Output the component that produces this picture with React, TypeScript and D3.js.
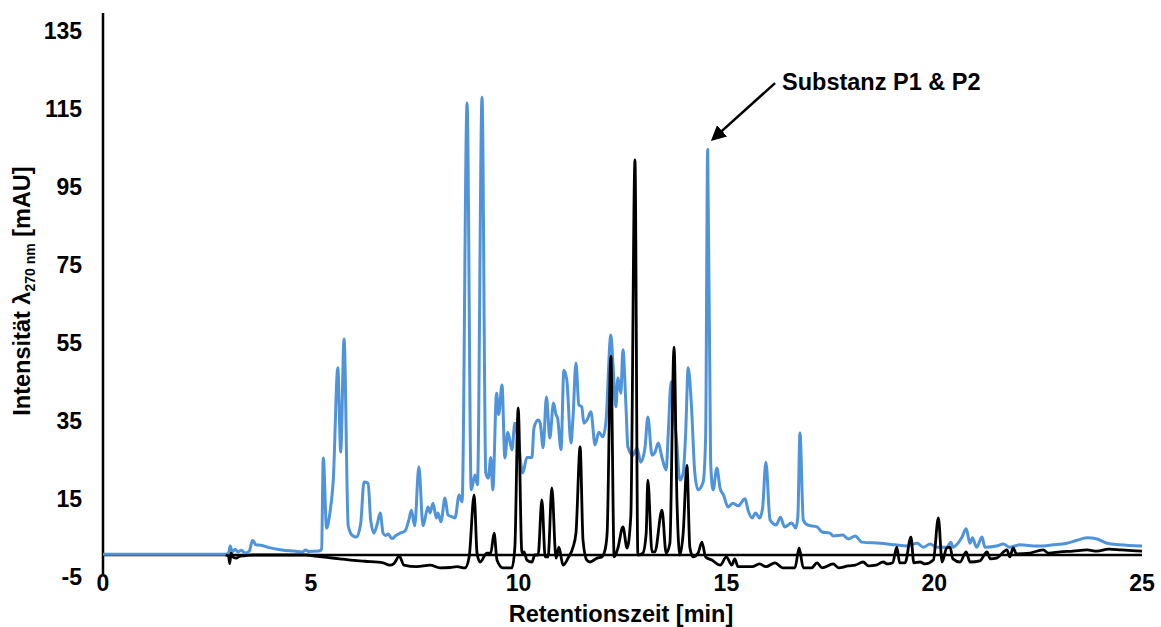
import React from "react";
import * as d3 from "d3";

// Chromatogram at 270 nm: two overlaid runs, retention time in minutes vs. absorbance in mAU
const xTicks = [0, 5, 10, 15, 20, 25];
const yTicks = [-5, 15, 35, 55, 75, 95, 115, 135];

// blue run [min, mAU]
const traceBlue: [number, number][] = [
  [0, 0.2], [2.95, 0.2], [3.02, 0.4], [3.06, 2.3], [3.11, 0.8], [3.18, 1.5], [3.25, 0.8],
  [3.33, 1.2], [3.42, 0.5], [3.52, 1.0], [3.6, 3.8], [3.68, 2.6], [3.8, 2.5], [4.0, 1.9],
  [4.3, 1.3], [4.6, 1.0], [4.8, 0.8], [4.88, 1.3], [4.95, 0.9], [5.2, 1.0], [5.26, 1.5],
  [5.3, 24.9], [5.38, 6.9], [5.46, 10.8], [5.54, 19], [5.65, 48], [5.72, 26.4], [5.8, 55.4],
  [5.9, 7.5], [6.0, 5], [6.1, 4.6], [6.2, 8], [6.28, 18.7], [6.38, 18.4], [6.44, 9],
  [6.52, 5.6], [6.6, 8], [6.67, 10.8], [6.74, 5.6], [6.8, 5.0], [6.86, 5.4], [6.95, 4.2],
  [7.05, 5.0], [7.15, 5.6], [7.27, 6.2], [7.36, 9], [7.42, 11.5], [7.5, 7.5], [7.6, 22.6],
  [7.7, 7.5], [7.82, 12.3], [7.87, 10.8], [7.94, 13.3], [8.02, 9.5], [8.06, 10.8], [8.13, 8.5],
  [8.23, 14.6], [8.3, 10.3], [8.4, 9.8], [8.47, 9.5], [8.57, 15.4], [8.64, 13.6], [8.76, 115.9],
  [8.86, 16.7], [8.95, 20.5], [9.01, 18], [9.12, 117.4], [9.21, 21], [9.27, 19.7], [9.33, 25],
  [9.38, 16.7], [9.47, 41.5], [9.52, 36], [9.6, 43.6], [9.67, 24.9], [9.74, 31.5], [9.84, 27],
  [9.91, 33.8], [9.99, 29.5], [10.1, 21], [10.2, 25], [10.32, 25], [10.37, 32.6], [10.47, 34.6],
  [10.52, 33.8], [10.59, 27.5], [10.67, 40.5], [10.75, 30], [10.84, 39], [10.9, 36], [10.94, 35],
  [11.02, 27], [11.09, 47.4], [11.16, 44.9], [11.26, 28.7], [11.31, 35.4], [11.38, 49.2],
  [11.45, 38.5], [11.52, 38], [11.57, 33.8], [11.64, 34.5], [11.74, 36.7], [11.84, 28.2],
  [11.93, 31.5], [12.03, 30.3], [12.1, 34], [12.22, 56.4], [12.27, 49], [12.34, 38],
  [12.39, 45.4], [12.46, 41.5], [12.51, 52.6], [12.58, 39], [12.63, 27.7], [12.75, 25.6],
  [12.85, 27.4], [12.94, 23.8], [13.04, 27.4], [13.11, 35.4], [13.21, 25.6], [13.28, 26.3],
  [13.36, 28.7], [13.45, 25], [13.55, 21.8], [13.6, 31], [13.67, 44.4], [13.72, 38],
  [13.8, 29.5], [13.88, 19.2], [13.96, 21], [14.02, 31.3], [14.08, 48], [14.16, 38],
  [14.24, 21], [14.32, 16.7], [14.44, 18.7], [14.5, 30], [14.55, 104], [14.62, 24],
  [14.68, 16.7], [14.77, 22.3], [14.85, 17], [14.93, 15.4], [15.04, 12.3], [15.16, 13.3],
  [15.28, 12.6], [15.45, 14.4], [15.52, 11.5], [15.62, 9.5], [15.7, 10.8], [15.8, 9.5],
  [15.87, 12], [15.95, 23.8], [16.05, 9], [16.2, 7.7], [16.3, 9.7], [16.4, 7.2], [16.57, 8.2],
  [16.67, 6.9], [16.72, 10], [16.77, 31.3], [16.85, 9], [16.95, 7.7], [17.18, 7.2], [17.3, 5.9],
  [17.49, 5.6], [17.57, 4.9], [17.8, 5.1], [17.93, 4.1], [18.1, 4.9], [18.26, 3.3], [18.7, 3.0],
  [19.06, 2.6], [19.35, 2.3], [19.59, 3.0], [19.74, 2.0], [19.9, 2.8], [20.07, 2.0], [20.3, 2.0],
  [20.4, 3.3], [20.45, 2.0], [20.66, 4.4], [20.77, 6.7], [20.86, 3.0], [20.92, 4.4], [21.02, 2.0],
  [21.15, 4.6], [21.22, 2.0], [21.5, 2.3], [21.66, 2.8], [21.82, 2.0], [22.06, 2.6], [22.47, 2.3],
  [22.86, 2.6], [23.19, 3.0], [23.44, 3.8], [23.68, 4.4], [23.92, 4.1], [24.16, 3.0],
  [24.47, 2.6], [25, 2.3],
];

// black run [min, mAU]
const traceBlack: [number, number][] = [
  [2.95, 0], [3.02, -0.3], [3.05, -2.2], [3.08, 0.5], [3.12, -0.5], [3.2, -0.8], [3.3, -0.3],
  [3.4, -0.2], [3.6, 0], [4.9, 0], [5.1, -0.3], [5.38, -0.6], [5.7, -1.0], [5.95, -1.3],
  [6.3, -1.6], [6.74, -2.0], [6.9, -2.6], [7.0, -2.2], [7.13, -0.3], [7.24, -2.6], [7.55, -3.0],
  [7.87, -2.6], [8.11, -3.3], [8.35, -3.2], [8.52, -3.0], [8.71, -3.3], [8.81, -0.5],
  [8.93, 15.4], [9.0, 0.5], [9.07, -1.8], [9.24, 0.5], [9.33, 0.5], [9.41, 5.6], [9.48, -1.3],
  [9.62, -3.3], [9.84, -3.3], [9.91, 2], [9.99, 37.7], [10.08, 0.5], [10.13, 0.8], [10.2, -1.3],
  [10.32, -1.8], [10.39, 0], [10.47, 0], [10.56, 14.1], [10.64, -0.5], [10.71, -0.5],
  [10.8, 17.2], [10.9, -0.8], [10.97, 2], [11.07, -2.6], [11.19, -0.8], [11.31, 2], [11.38, 5.6],
  [11.48, 27.7], [11.55, 3.8], [11.64, -1.3], [11.72, -1.8], [11.89, -0.8], [12.0, -0.5],
  [12.08, 1.3], [12.13, 5.6], [12.22, 51], [12.3, -0.5], [12.39, 1.8], [12.51, 7.2],
  [12.61, 1.8], [12.7, 10], [12.8, 101.3], [12.87, 0], [12.99, 0.5], [13.07, 5.6], [13.11, 19.2],
  [13.21, 0.8], [13.28, 0.8], [13.45, 11.5], [13.55, 0.5], [13.64, 3], [13.74, 53.3],
  [13.81, 14], [13.88, 0], [13.96, 5.6], [14.05, 23], [14.12, 2], [14.2, -0.5], [14.32, 0.5],
  [14.41, 3.3], [14.5, -0.5], [14.65, -1.3], [14.85, -2.6], [15.0, -0.5], [15.13, -2.6],
  [15.2, -1.0], [15.28, -3.0], [15.62, -3.0], [15.8, -2.3], [15.95, -3.0], [16.17, -2.0],
  [16.35, -3.3], [16.65, -3.3], [16.75, 1.8], [16.85, -3.3], [17.05, -3.3], [17.18, -2.0],
  [17.3, -3.3], [17.57, -2.3], [17.7, -3.3], [17.93, -2.8], [18.1, -2.6], [18.29, -1.8],
  [18.42, -2.8], [18.6, -2.6], [18.77, -1.8], [18.88, -2.3], [19.0, -2.0], [19.1, 2.0],
  [19.17, -2.0], [19.3, -2.0], [19.44, 4.6], [19.51, -2.0], [19.66, -1.8], [19.78, -2.3],
  [19.98, -1.3], [20.1, 9.5], [20.19, -1.8], [20.3, 1.8], [20.38, 2.0], [20.45, -1.0],
  [20.62, -1.8], [20.77, 0.8], [20.86, -1.8], [21.1, -1.5], [21.27, 0.8], [21.35, -1.0],
  [21.5, -0.8], [21.75, 1.3], [21.82, -0.5], [21.9, 1.8], [21.98, 0.3], [22.3, 0.5],
  [22.62, 1.3], [22.75, 0.5], [23.03, 0.8], [23.34, 1.0], [23.68, 1.3], [23.92, 1.0],
  [24.19, 1.5], [24.5, 1.3], [25, 1.0],
];

// peak callout: arrow tail and tip as [min, mAU]
const calloutLabel = "Substanz P1 & P2";
const calloutTail: [number, number] = [16.17, 121];
const calloutTip: [number, number] = [14.68, 106.7];

const W = 1161;
const H = 627;
const FONT = "'Liberation Sans', Arial, Helvetica, sans-serif";
const BLUE = "#4f94da";

export default function App() {
  const x = d3.scaleLinear().domain([0, 25]).range([103, 1142]);
  const y = d3.scaleLinear().domain([-5, 139]).range([574.5, 12.9]);

  const line = d3
    .line<[number, number]>()
    .x((d) => x(d[0]))
    .y((d) => y(d[1]))
    .curve(d3.curveMonotoneX);

  const textStyle = { fontFamily: FONT, fontWeight: 700, fill: "#000" } as const;

  return (
    <svg
      width={W}
      height={H}
      viewBox={`0 0 ${W} ${H}`}
      style={{ position: "absolute", left: 0, top: 0, background: "#fff" }}
    >
      <defs>
        <marker
          id="arrowHead"
          viewBox="0 0 10 10"
          refX="8"
          refY="5"
          markerWidth="6"
          markerHeight="6"
          markerUnits="strokeWidth"
          orient="auto"
        >
          <path d="M0,0 L10,5 L0,10 Z" fill="#000" />
        </marker>
      </defs>

      {/* axes */}
      <line x1={x(0)} x2={x(25)} y1={y(0)} y2={y(0)} stroke="#000" strokeWidth={2.5} />
      <line x1={x(0)} x2={x(0)} y1={y(139)} y2={y(-5)} stroke="#000" strokeWidth={2.5} />

      {/* traces */}
      <path d={line(traceBlue) ?? ""} fill="none" stroke={BLUE} strokeWidth={3} strokeLinejoin="round" />
      <path d={line(traceBlack) ?? ""} fill="none" stroke="#000" strokeWidth={2.8} strokeLinejoin="round" />

      {/* y tick labels */}
      {yTicks.map((t) => (
        <text key={`y${t}`} x={82} y={y(t) + 2} dy="0.36em" textAnchor="end" fontSize={23} style={textStyle}>
          {t}
        </text>
      ))}

      {/* x tick labels */}
      {xTicks.map((t) => (
        <text key={`x${t}`} x={x(t)} y={583} dy="0.36em" textAnchor="middle" fontSize={23} style={textStyle}>
          {t}
        </text>
      ))}

      {/* axis titles */}
      <text x={621} y={614} dy="0.36em" textAnchor="middle" fontSize={23.5} style={textStyle}>
        Retentionszeit [min]
      </text>
      <text
        transform={`translate(22, 291) rotate(-90)`}
        textAnchor="middle"
        dy="0.36em"
        fontSize={23.5}
        style={textStyle}
      >
        Intensität λ
        <tspan fontSize={14} dy="5">270 nm</tspan>
        <tspan dy="-5"> [mAU]</tspan>
      </text>

      {/* callout */}
      <line
        x1={x(calloutTail[0])}
        y1={y(calloutTail[1])}
        x2={x(calloutTip[0])}
        y2={y(calloutTip[1])}
        stroke="#000"
        strokeWidth={2.5}
        markerEnd="url(#arrowHead)"
      />
      <text x={x(calloutTail[0]) + 7} y={y(calloutTail[1])} dy="0.3em" fontSize={23.5} style={textStyle}>
        {calloutLabel}
      </text>
    </svg>
  );
}
